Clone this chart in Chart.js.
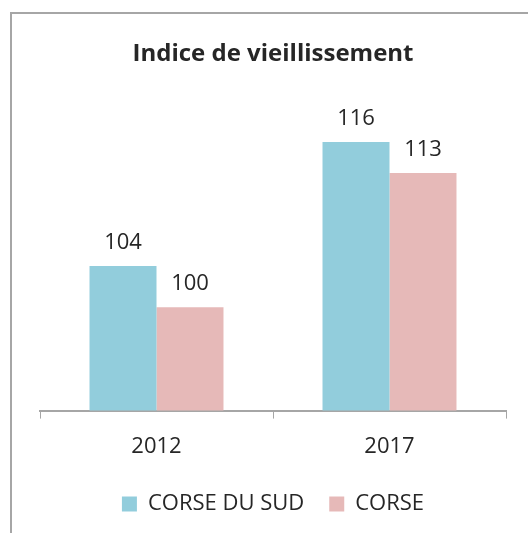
<!DOCTYPE html>
<html>
<head>
<meta charset="utf-8">
<script src="https://cdn.jsdelivr.net/npm/chart.js@4/dist/chart.umd.min.js"></script>
<style>
  html, body { margin: 0; padding: 0; background: #ffffff; overflow: hidden; }
  #frame { position: absolute; left: 10px; top: 12px; width: 600px; height: 600px; border: 2px solid #a6a6a6; box-sizing: border-box; }
  #c { position: absolute; left: 0; top: 0; }
</style>
</head>
<body>
<div id="frame"></div>
<canvas id="c" width="528" height="533"></canvas>
<script>
const categories = ['2012', '2017'];
const seriesNames = ['CORSE DU SUD', 'CORSE'];
const corseDuSud = [104, 116];
const corse = [100, 113];
const chartTitle = 'Indice de vieillissement';

const FONT = '"Open Sans", "DejaVu Sans", sans-serif';
const TEXT = '#262626';

const valueLabels = {
  id: 'valueLabels',
  afterDatasetsDraw(chart) {
    const ctx = chart.ctx;
    ctx.save();
    ctx.font = '22px ' + FONT;
    ctx.fillStyle = TEXT;
    ctx.textAlign = 'center';
    ctx.textBaseline = 'alphabetic';
    chart.data.datasets.forEach((ds, i) => {
      chart.getDatasetMeta(i).data.forEach((bar, j) => {
        ctx.fillText(String(ds.data[j]), bar.x, bar.y - 17);
      });
    });
    ctx.restore();
  }
};

new Chart(document.getElementById('c'), {
  type: 'bar',
  data: {
    labels: categories,
    datasets: [
      { label: seriesNames[0], data: corseDuSud, backgroundColor: '#92cddc', categoryPercentage: 0.575, barPercentage: 1.0 },
      { label: seriesNames[1], data: corse, backgroundColor: '#e6b9b8', categoryPercentage: 0.575, barPercentage: 1.0 }
    ]
  },
  options: {
    responsive: false,
    animation: false,
    layout: { padding: { left: 40, right: 22, top: 0, bottom: 8 } },
    plugins: {
      title: {
        display: true,
        text: chartTitle,
        color: TEXT,
        font: { family: FONT, size: 24, weight: 'bold' },
        padding: { top: 40, bottom: 32 }
      },
      legend: {
        display: true,
        position: 'bottom',
        labels: {
          color: TEXT,
          font: { family: FONT, size: 22 },
          boxWidth: 15,
          boxHeight: 15,
          padding: 25
        }
      },
      tooltip: { enabled: false }
    },
    scales: {
      x: {
        grid: { display: true, drawOnChartArea: false, drawTicks: true, tickLength: 8, color: '#a6a6a6', lineWidth: 1 },
        border: { display: true, color: '#a6a6a6', width: 2 },
        ticks: { color: TEXT, font: { family: FONT, size: 22 }, padding: 15 },
        afterFit(scale) { scale.height -= 7; }
      },
      y: {
        display: false,
        min: 90,
        max: 120
      }
    }
  },
  plugins: [valueLabels]
});
</script>
</body>
</html>
